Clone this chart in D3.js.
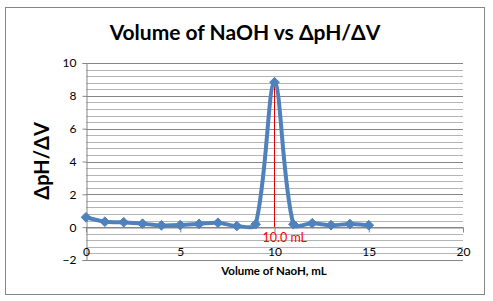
<!DOCTYPE html>
<html>
<head>
<meta charset="utf-8">
<script src="https://cdn.jsdelivr.net/npm/d3@7"></script>
<style>
  body { margin: 0; background: #fff; }
  text { font-family: Lato, "Open Sans", sans-serif; }
</style>
</head>
<body>
<div id="chart_container"></div>
<script>
// data
var volumes = [0, 1, 2, 3, 4, 5, 6, 7, 8, 9, 10, 11, 12, 13, 14, 15];
var dpHdV = [0.6, 0.33, 0.3, 0.21, 0.11, 0.13, 0.2, 0.27, 0.07, 0.18, 8.83, 0.18, 0.24, 0.12, 0.19, 0.12];
var xTicks = [0, 5, 10, 15, 20];
var yTicks = [-2, 0, 2, 4, 6, 8, 10];
var peakLabel = "10.0 mL";
var peakVolume = 10;

var width = 493,
    height = 301;

var svg = d3.select("#chart_container").append("svg")
    .attr("width", width)
    .attr("height", height);

// outer chart border
svg.append("rect")
  .attr("x", 5.5)
  .attr("y", 7.5)
  .attr("width", 479)
  .attr("height", 287)
  .attr("fill", "none")
  .attr("stroke", "#868686");

var x = d3.scaleLinear().domain([0, 20]).range([86, 463]);
var y = d3.scaleLinear().domain([-2, 10]).range([260, 63]);

// minor gridlines every 0.4
var minor = d3.range(-2, 10.001, 0.4).filter(v => Math.abs(v / 2 - Math.round(v / 2)) > 0.01);
svg.append("g").selectAll("line")
  .data(minor)
  .enter()
  .append("line")
  .attr("x1", x(0)).attr("x2", x(20))
  .attr("y1", d => Math.round(y(d)) + 0.5)
  .attr("y2", d => Math.round(y(d)) + 0.5)
  .attr("stroke", "#b4b4b4");

// major gridlines
svg.append("g").selectAll("line")
  .data(yTicks)
  .enter()
  .append("line")
  .attr("x1", x(0)).attr("x2", x(20))
  .attr("y1", d => Math.round(y(d)) + 0.5)
  .attr("y2", d => Math.round(y(d)) + 0.5)
  .attr("stroke", "#868686");

// y axis
var yAxis = svg.append("g")
  .attr("transform", "translate(" + (x(0) + 0.5) + ",0)")
  .call(d3.axisLeft(y).tickValues(yTicks).tickSize(4).tickPadding(6));
yAxis.selectAll("text").attr("font-size", 12).attr("fill", "#000");
yAxis.selectAll("line, path").attr("stroke", "#868686");

// x axis at y = 0, labels sit lower like the picture
var xAxis = svg.append("g")
  .attr("transform", "translate(0," + (Math.round(y(0)) + 0.5) + ")")
  .call(d3.axisBottom(x).tickValues(xTicks).tickSize(5).tickSizeOuter(0).tickPadding(15));
xAxis.selectAll("text").attr("font-size", 12).attr("fill", "#000");
xAxis.selectAll("line, path").attr("stroke", "#868686");

// drop line from the peak
var peak = dpHdV[volumes.indexOf(peakVolume)];
svg.append("line")
  .attr("x1", x(peakVolume)).attr("x2", x(peakVolume))
  .attr("y1", y(peak)).attr("y2", y(0))
  .attr("stroke", "#e00000")
  .attr("stroke-width", 1);

var points = volumes.map((v, i) => ({ v: v, d: dpHdV[i] }));

// excel style smoothing: bezier handles scaled by chord lengths
function smoothPath(pts) {
  var p = pts.map(d => [x(d.v), y(d.d)]);
  var n = p.length;
  var dist = (a, b) => Math.hypot(b[0] - a[0], b[1] - a[1]);
  var path = d3.path();
  path.moveTo(p[0][0], p[0][1]);
  for (var i = 0; i < n - 1; i++) {
    var p0 = p[Math.max(i - 1, 0)], p1 = p[i], p2 = p[i + 1], p3 = p[Math.min(i + 2, n - 1)];
    var d0 = dist(p0, p1), d1 = dist(p1, p2), d2 = dist(p2, p3);
    var r1 = d0 + d1 > 0 ? d1 / (d0 + d1) : 0;
    var r2 = d1 + d2 > 0 ? d1 / (d1 + d2) : 0;
    if (i == 0) r1 = 0.5;
    if (i == n - 2) r2 = 0.5;
    var c1 = [p1[0] + (p2[0] - p0[0]) * r1 / 3, p1[1] + (p2[1] - p0[1]) * r1 / 3];
    var c2 = [p2[0] - (p3[0] - p1[0]) * r2 / 3, p2[1] - (p3[1] - p1[1]) * r2 / 3];
    path.bezierCurveTo(c1[0], c1[1], c2[0], c2[1], p2[0], p2[1]);
  }
  return path.toString();
}

svg.append("path")
  .attr("d", smoothPath(points))
  .attr("fill", "none")
  .attr("stroke", "#4f81bd")
  .attr("stroke-width", 4)
  .attr("stroke-linejoin", "round");

// diamond markers
svg.append("g").selectAll("path")
  .data(points)
  .enter()
  .append("path")
  .attr("d", d3.symbol().type(d3.symbolDiamond2).size(60))
  .attr("transform", d => "translate(" + x(d.v) + "," + y(d.d) + ")")
  .attr("fill", "#4f81bd")
  .attr("stroke", "#4f81bd");

// peak label
svg.append("text")
  .attr("x", x(peakVolume) - 12)
  .attr("y", 242)
  .attr("font-size", 12.5)
  .attr("fill", "#ff0000")
  .text(peakLabel);

// titles
svg.append("text")
  .attr("x", 245)
  .attr("y", 40)
  .attr("text-anchor", "middle")
  .attr("font-size", 21)
  .attr("font-weight", "bold")
  .text("Volume of NaOH vs ΔpH/ΔV");

svg.append("text")
  .attr("transform", "translate(49,161) rotate(-90)")
  .attr("text-anchor", "middle")
  .attr("font-size", 20)
  .attr("font-weight", "bold")
  .text("ΔpH/ΔV");

svg.append("text")
  .attr("x", 274)
  .attr("y", 275)
  .attr("text-anchor", "middle")
  .attr("font-size", 11.5)
  .attr("font-weight", "bold")
  .text("Volume of NaoH,  mL");
</script>
</body>
</html>
